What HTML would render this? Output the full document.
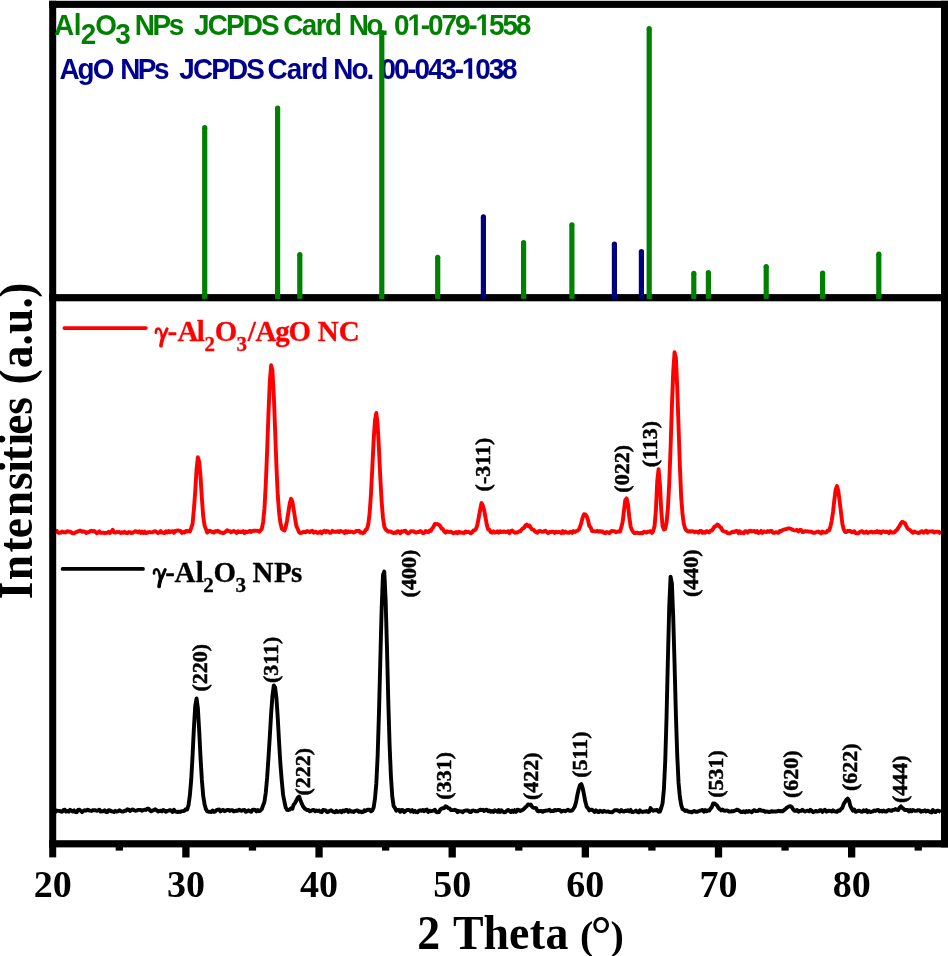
<!DOCTYPE html>
<html><head><meta charset="utf-8"><style>
html,body{margin:0;padding:0;background:#fff;width:948px;height:956px;overflow:hidden}
svg{display:block;will-change:transform}
text{white-space:pre}
.ser{font-family:"Liberation Serif",serif;font-weight:bold}
.san{font-family:"Liberation Sans",sans-serif;font-weight:bold}
</style></head><body>
<svg width="948" height="956" viewBox="0 0 948 956">

<polyline fill="none" stroke="#000" stroke-width="3.9" stroke-linejoin="round" points="52.75,810.07 54.08,811.75 55.41,811.78 56.74,810.49 58.08,810.91 59.41,810.86 60.74,811.37 62.07,811.79 63.40,810.08 64.73,809.66 66.06,811.66 67.40,810.93 68.73,811.66 70.06,809.83 71.39,810.69 72.72,811.52 74.05,810.39 75.39,812.04 76.72,812.18 78.05,809.98 79.38,809.64 80.71,810.90 82.04,812.10 83.37,810.86 84.71,810.26 86.04,810.69 87.37,809.75 88.70,810.10 90.03,810.70 91.36,810.94 92.69,810.31 94.03,810.20 95.36,810.16 96.69,810.76 98.02,810.42 99.35,809.68 100.68,811.64 102.02,811.22 103.35,811.37 104.68,810.22 106.01,812.09 107.34,812.03 108.67,810.12 110.00,810.36 111.34,811.37 112.67,811.48 114.00,812.05 115.33,810.80 116.66,811.63 117.99,811.32 119.32,810.31 120.66,810.85 121.99,811.64 123.32,811.63 124.65,810.72 125.98,810.76 127.31,809.31 128.65,809.58 129.98,810.99 131.31,810.18 132.64,809.41 133.97,810.21 135.30,810.69 136.63,810.65 137.97,809.85 139.30,809.87 140.63,810.03 141.96,810.73 143.29,810.17 144.62,809.75 145.95,809.94 147.29,808.80 148.62,808.68 149.95,810.36 151.28,811.35 152.61,810.54 153.94,809.94 155.28,809.31 156.61,810.11 157.94,811.49 159.27,811.20 160.60,810.61 161.93,811.38 163.26,809.94 164.60,810.48 165.93,811.72 167.26,810.99 168.59,810.61 169.92,810.11 171.25,810.77 172.58,811.94 173.92,809.72 175.25,811.39 176.58,811.76 177.91,812.00 179.24,811.68 180.57,811.82 181.91,811.11 183.24,811.09 184.57,810.63 185.90,809.16 187.23,809.56 188.56,805.03 189.89,795.08 191.23,779.52 192.56,755.83 193.89,728.35 195.22,706.19 196.55,698.54 197.88,708.28 199.22,731.13 200.55,757.90 201.88,779.97 203.21,795.89 204.54,804.27 205.87,809.08 207.20,811.35 208.54,811.75 209.87,811.86 211.20,811.94 212.53,810.52 213.86,811.80 215.19,811.56 216.52,810.02 217.86,809.62 219.19,809.56 220.52,811.44 221.85,810.43 223.18,809.92 224.51,811.16 225.84,810.63 227.18,809.85 228.51,809.96 229.84,810.91 231.17,810.14 232.50,810.29 233.83,811.43 235.17,810.95 236.50,810.54 237.83,810.86 239.16,809.76 240.49,810.53 241.82,810.73 243.15,810.16 244.49,809.88 245.82,811.85 247.15,811.15 248.48,810.28 249.81,811.16 251.14,811.83 252.47,809.90 253.81,809.60 255.14,809.88 256.47,811.36 257.80,810.08 259.13,811.07 260.46,810.62 261.80,808.97 263.13,805.30 264.46,801.78 265.79,792.51 267.12,777.89 268.45,758.21 269.78,736.86 271.12,713.80 272.45,695.85 273.78,685.45 275.11,687.39 276.44,698.00 277.77,718.06 279.11,742.68 280.44,764.48 281.77,780.83 283.10,794.81 284.43,801.75 285.76,807.82 287.09,809.89 288.43,809.99 289.76,809.54 291.09,808.18 292.42,808.76 293.75,804.43 295.08,802.95 296.41,800.47 297.75,797.63 299.08,796.49 300.41,800.06 301.74,803.69 303.07,806.27 304.40,808.19 305.74,809.34 307.07,810.02 308.40,810.00 309.73,811.27 311.06,810.86 312.39,810.20 313.72,809.87 315.06,811.25 316.39,810.52 317.72,810.93 319.05,810.54 320.38,811.88 321.71,812.15 323.04,809.94 324.38,810.08 325.71,810.42 327.04,812.16 328.37,811.89 329.70,810.72 331.03,810.23 332.36,811.33 333.70,811.91 335.03,812.24 336.36,810.79 337.69,811.94 339.02,811.62 340.35,811.05 341.69,812.25 343.02,810.51 344.35,811.50 345.68,810.02 347.01,810.01 348.34,811.90 349.67,810.40 351.01,811.57 352.34,811.34 353.67,811.92 355.00,810.80 356.33,810.56 357.66,810.40 359.00,811.85 360.33,811.39 361.66,812.22 362.99,812.17 364.32,810.25 365.65,811.02 366.98,809.99 368.32,809.65 369.65,809.61 370.98,811.32 372.31,810.37 373.64,807.47 374.97,798.81 376.30,783.67 377.64,756.11 378.97,712.91 380.30,660.96 381.63,609.34 382.96,575.27 384.29,571.48 385.62,599.94 386.96,647.21 388.29,701.33 389.62,745.81 390.95,776.93 392.28,796.64 393.61,806.07 394.95,807.90 396.28,810.68 397.61,809.85 398.94,809.83 400.27,811.81 401.60,809.95 402.93,810.18 404.27,812.12 405.60,810.97 406.93,810.01 408.26,810.00 409.59,810.19 410.92,811.50 412.25,810.06 413.59,811.91 414.92,810.83 416.25,812.17 417.58,812.22 418.91,810.66 420.24,810.32 421.58,810.84 422.91,809.96 424.24,811.23 425.57,809.86 426.90,809.58 428.23,812.02 429.56,810.63 430.90,811.19 432.23,810.90 433.56,810.51 434.89,809.81 436.22,811.86 437.55,812.26 438.88,812.16 440.22,809.53 441.55,808.58 442.88,808.27 444.21,807.99 445.54,806.32 446.87,806.88 448.21,808.03 449.54,808.41 450.87,810.05 452.20,810.15 453.53,810.17 454.86,809.80 456.19,810.26 457.53,812.12 458.86,811.04 460.19,811.39 461.52,811.42 462.85,812.19 464.18,810.90 465.51,810.49 466.85,810.48 468.18,810.46 469.51,811.80 470.84,812.12 472.17,810.67 473.50,810.53 474.84,811.04 476.17,811.21 477.50,811.28 478.83,810.39 480.16,809.69 481.49,810.15 482.82,809.78 484.16,810.95 485.49,809.90 486.82,809.75 488.15,811.16 489.48,810.49 490.81,811.67 492.14,811.08 493.48,811.94 494.81,810.26 496.14,810.89 497.47,811.74 498.80,810.03 500.13,812.00 501.47,810.32 502.80,811.60 504.13,812.33 505.46,812.02 506.79,810.69 508.12,809.95 509.45,810.88 510.79,812.05 512.12,810.63 513.45,811.93 514.78,810.18 516.11,811.83 517.44,809.71 518.77,809.90 520.11,811.04 521.44,810.40 522.77,809.80 524.10,808.65 525.43,807.33 526.76,806.24 528.10,804.36 529.43,804.76 530.76,804.58 532.09,806.74 533.42,807.87 534.75,807.87 536.08,808.13 537.42,811.00 538.75,811.39 540.08,810.99 541.41,811.02 542.74,811.86 544.07,811.00 545.40,810.73 546.74,810.55 548.07,810.31 549.40,809.68 550.73,811.18 552.06,810.81 553.39,811.15 554.73,809.91 556.06,810.47 557.39,810.00 558.72,809.89 560.05,810.22 561.38,811.72 562.71,810.85 564.05,810.72 565.38,811.24 566.71,810.35 568.04,809.63 569.37,810.80 570.70,810.74 572.03,810.60 573.37,808.80 574.70,806.67 576.03,802.34 577.36,795.04 578.69,789.29 580.02,785.15 581.36,784.16 582.69,788.17 584.02,794.63 585.35,801.81 586.68,806.81 588.01,808.18 589.34,810.39 590.68,809.59 592.01,809.66 593.34,810.82 594.67,811.93 596.00,810.27 597.33,811.57 598.66,812.06 600.00,810.68 601.33,811.44 602.66,811.96 603.99,810.82 605.32,811.49 606.65,811.68 607.99,811.34 609.32,811.96 610.65,812.16 611.98,812.35 613.31,811.38 614.64,810.23 615.97,810.25 617.31,810.17 618.64,811.05 619.97,811.67 621.30,809.96 622.63,811.31 623.96,811.60 625.29,810.70 626.63,810.99 627.96,810.14 629.29,811.46 630.62,809.90 631.95,812.06 633.28,811.94 634.62,811.47 635.95,810.48 637.28,811.97 638.61,812.32 639.94,810.28 641.27,811.59 642.60,811.96 643.94,811.55 645.27,811.59 646.60,810.95 647.93,812.04 649.26,811.58 650.59,808.04 651.92,809.98 653.26,810.76 654.59,810.13 655.92,810.42 657.25,809.93 658.58,811.74 659.91,811.66 661.25,807.75 662.58,803.18 663.91,789.23 665.24,760.93 666.57,716.39 667.90,659.02 669.23,606.73 670.57,576.59 671.90,583.68 673.23,617.33 674.56,664.11 675.89,714.45 677.22,754.71 678.55,782.71 679.89,797.11 681.22,805.04 682.55,809.13 683.88,809.84 685.21,810.97 686.54,810.35 687.88,811.37 689.21,811.80 690.54,811.91 691.87,812.34 693.20,811.32 694.53,811.02 695.86,811.91 697.20,811.82 698.53,811.30 699.86,810.75 701.19,810.41 702.52,809.91 703.85,811.61 705.18,810.05 706.52,811.26 707.85,810.50 709.18,810.56 710.51,808.61 711.84,807.12 713.17,803.37 714.51,803.40 715.84,804.48 717.17,805.64 718.50,807.99 719.83,809.17 721.16,810.43 722.49,809.53 723.83,810.61 725.16,810.81 726.49,810.47 727.82,810.66 729.15,811.67 730.48,811.57 731.81,811.07 733.15,811.39 734.48,810.75 735.81,810.21 737.14,809.62 738.47,810.23 739.80,811.13 741.14,811.99 742.47,811.99 743.80,811.18 745.13,812.27 746.46,811.09 747.79,811.87 749.12,810.90 750.46,811.61 751.79,812.33 753.12,810.70 754.45,810.11 755.78,811.17 757.11,811.10 758.44,810.66 759.78,809.68 761.11,810.52 762.44,810.74 763.77,810.72 765.10,811.88 766.43,811.35 767.77,811.65 769.10,812.11 770.43,811.80 771.76,811.10 773.09,811.64 774.42,811.45 775.75,811.45 777.09,811.39 778.42,810.79 779.75,811.19 781.08,811.06 782.41,811.40 783.74,810.35 785.07,809.37 786.41,807.99 787.74,807.18 789.07,806.42 790.40,806.23 791.73,806.98 793.06,809.26 794.40,810.83 795.73,810.71 797.06,809.93 798.39,811.65 799.72,811.05 801.05,810.92 802.38,809.83 803.72,810.85 805.05,811.60 806.38,810.89 807.71,810.61 809.04,811.34 810.37,809.83 811.70,810.84 813.04,812.11 814.37,811.65 815.70,810.85 817.03,811.46 818.36,811.34 819.69,810.31 821.03,810.15 822.36,811.86 823.69,810.54 825.02,809.85 826.35,811.67 827.68,811.16 829.01,810.69 830.35,810.98 831.68,811.60 833.01,810.24 834.34,811.28 835.67,811.58 837.00,811.87 838.33,810.44 839.67,810.81 841.00,809.09 842.33,807.95 843.66,804.03 844.99,801.95 846.32,799.89 847.66,798.56 848.99,800.53 850.32,805.88 851.65,808.54 852.98,810.70 854.31,809.54 855.64,811.75 856.98,811.42 858.31,810.59 859.64,810.77 860.97,811.63 862.30,811.82 863.63,810.33 864.96,811.22 866.30,810.18 867.63,812.08 868.96,811.02 870.29,812.06 871.62,811.74 872.95,811.38 874.29,810.45 875.62,810.99 876.95,810.08 878.28,809.94 879.61,811.39 880.94,810.70 882.27,811.60 883.61,810.43 884.94,811.47 886.27,811.63 887.60,810.60 888.93,809.93 890.26,810.57 891.59,810.88 892.93,809.85 894.26,809.76 895.59,809.08 896.92,809.84 898.25,810.03 899.58,807.68 900.92,806.44 902.25,807.96 903.58,808.89 904.91,810.07 906.24,810.04 907.57,809.87 908.90,811.43 910.24,809.99 911.57,811.31 912.90,810.01 914.23,810.59 915.56,810.93 916.89,810.68 918.22,810.11 919.56,810.18 920.89,811.69 922.22,811.01 923.55,811.21 924.88,810.30 926.21,811.44 927.55,810.63 928.88,811.18 930.21,812.07 931.54,812.42 932.87,810.06 934.20,811.62 935.53,812.00 936.87,810.69 938.20,810.66 939.53,811.15 940.86,812.09"/>
<polyline fill="none" stroke="#ff0000" stroke-width="3.9" stroke-linejoin="round" points="52.75,533.16 54.08,533.32 55.41,531.07 56.74,530.80 58.08,532.68 59.41,532.70 60.74,532.54 62.07,531.59 63.40,532.21 64.73,532.30 66.06,532.25 67.40,531.17 68.73,531.70 70.06,531.68 71.39,532.52 72.72,533.34 74.05,533.35 75.39,532.31 76.72,531.91 78.05,531.40 79.38,530.73 80.71,530.60 82.04,531.70 83.37,531.49 84.71,531.62 86.04,532.94 87.37,532.21 88.70,532.19 90.03,531.35 91.36,530.69 92.69,531.36 94.03,530.98 95.36,531.87 96.69,533.25 98.02,532.63 99.35,531.28 100.68,532.90 102.02,532.89 103.35,532.73 104.68,533.15 106.01,532.84 107.34,532.87 108.67,531.75 110.00,532.94 111.34,531.91 112.67,529.90 114.00,532.30 115.33,532.62 116.66,532.00 117.99,532.08 119.32,531.99 120.66,533.08 121.99,532.16 123.32,532.87 124.65,531.76 125.98,532.94 127.31,533.16 128.65,532.07 129.98,532.18 131.31,533.10 132.64,532.74 133.97,532.08 135.30,531.30 136.63,531.45 137.97,532.43 139.30,531.21 140.63,532.92 141.96,531.55 143.29,532.98 144.62,531.66 145.95,533.12 147.29,532.69 148.62,532.11 149.95,532.06 151.28,532.40 152.61,532.28 153.94,531.56 155.28,531.19 156.61,531.91 157.94,533.09 159.27,532.48 160.60,530.99 161.93,532.67 163.26,532.68 164.60,533.14 165.93,531.38 167.26,532.53 168.59,530.95 169.92,532.23 171.25,531.46 172.58,531.22 173.92,532.84 175.25,531.03 176.58,530.74 177.91,530.41 179.24,530.60 180.57,531.13 181.91,532.85 183.24,531.93 184.57,532.54 185.90,530.88 187.23,531.45 188.56,530.91 189.89,531.48 191.23,527.91 192.56,523.87 193.89,509.31 195.22,491.57 196.55,469.29 197.88,457.23 199.22,461.77 200.55,477.01 201.88,498.02 203.21,516.27 204.54,525.52 205.87,528.87 207.20,532.59 208.54,531.18 209.87,530.69 211.20,531.41 212.53,532.21 213.86,532.65 215.19,531.11 216.52,531.45 217.86,530.72 219.19,531.68 220.52,532.63 221.85,532.71 223.18,533.12 224.51,532.53 225.84,531.47 227.18,530.21 228.51,530.90 229.84,531.15 231.17,532.30 232.50,531.58 233.83,530.92 235.17,531.71 236.50,532.91 237.83,531.19 239.16,532.09 240.49,531.74 241.82,532.00 243.15,531.09 244.49,533.04 245.82,531.54 247.15,532.20 248.48,531.83 249.81,530.74 251.14,531.96 252.47,531.08 253.81,530.73 255.14,530.61 256.47,530.90 257.80,530.69 259.13,531.71 260.46,530.52 261.80,528.80 263.13,522.06 264.46,508.65 265.79,483.78 267.12,451.60 268.45,413.91 269.78,382.16 271.12,365.29 272.45,370.54 273.78,395.16 275.11,429.88 276.44,466.25 277.77,495.22 279.11,512.70 280.44,522.90 281.77,528.59 283.10,529.56 284.43,530.54 285.76,526.74 287.09,520.36 288.43,511.83 289.76,503.25 291.09,498.75 292.42,501.92 293.75,509.75 295.08,518.45 296.41,526.16 297.75,529.01 299.08,532.25 300.41,533.16 301.74,532.75 303.07,531.94 304.40,532.02 305.74,532.21 307.07,530.89 308.40,531.62 309.73,532.01 311.06,531.19 312.39,530.84 313.72,532.60 315.06,531.75 316.39,532.01 317.72,533.08 319.05,532.44 320.38,531.53 321.71,533.16 323.04,531.85 324.38,530.75 325.71,532.29 327.04,531.03 328.37,531.36 329.70,532.77 331.03,532.56 332.36,530.85 333.70,531.70 335.03,531.73 336.36,531.92 337.69,531.24 339.02,532.11 340.35,530.93 341.69,531.29 343.02,531.57 344.35,533.05 345.68,531.08 347.01,532.51 348.34,531.29 349.67,532.08 351.01,531.74 352.34,531.87 353.67,532.63 355.00,531.83 356.33,531.01 357.66,530.89 359.00,530.76 360.33,532.70 361.66,532.45 362.99,533.17 364.32,532.38 365.65,529.83 366.98,528.98 368.32,524.11 369.65,513.08 370.98,493.93 372.31,467.88 373.64,440.44 374.97,420.38 376.30,413.04 377.64,424.81 378.97,448.77 380.30,477.78 381.63,501.33 382.96,517.76 384.29,526.54 385.62,529.29 386.96,530.54 388.29,531.67 389.62,531.32 390.95,531.71 392.28,532.41 393.61,533.13 394.95,532.39 396.28,532.87 397.61,531.10 398.94,531.50 400.27,533.19 401.60,531.28 402.93,531.68 404.27,530.85 405.60,530.77 406.93,532.82 408.26,533.37 409.59,532.58 410.92,531.14 412.25,531.35 413.59,531.22 414.92,532.32 416.25,532.51 417.58,531.92 418.91,532.05 420.24,531.02 421.58,531.96 422.91,533.14 424.24,532.82 425.57,531.06 426.90,531.79 428.23,532.19 429.56,530.57 430.90,530.97 432.23,528.37 433.56,526.68 434.89,523.92 436.22,524.13 437.55,524.01 438.88,524.93 440.22,525.93 441.55,528.59 442.88,529.16 444.21,531.37 445.54,532.73 446.87,531.25 448.21,531.90 449.54,531.94 450.87,531.75 452.20,532.50 453.53,533.19 454.86,532.70 456.19,532.04 457.53,533.18 458.86,531.75 460.19,532.59 461.52,532.49 462.85,532.74 464.18,533.01 465.51,531.45 466.85,532.23 468.18,531.79 469.51,532.39 470.84,533.25 472.17,532.42 473.50,530.37 474.84,530.22 476.17,528.48 477.50,524.29 478.83,516.86 480.16,509.84 481.49,503.08 482.82,505.38 484.16,510.27 485.49,517.37 486.82,524.85 488.15,529.43 489.48,529.78 490.81,532.26 492.14,532.68 493.48,531.33 494.81,532.52 496.14,532.30 497.47,531.26 498.80,532.66 500.13,531.18 501.47,532.16 502.80,531.86 504.13,531.35 505.46,532.07 506.79,531.93 508.12,531.24 509.45,533.08 510.79,531.07 512.12,530.59 513.45,531.74 514.78,532.79 516.11,532.43 517.44,532.49 518.77,531.55 520.11,531.42 521.44,529.80 522.77,528.41 524.10,527.71 525.43,525.42 526.76,524.62 528.10,526.19 529.43,525.50 530.76,527.82 532.09,529.35 533.42,529.61 534.75,531.10 536.08,532.10 537.42,532.72 538.75,531.09 540.08,530.97 541.41,531.53 542.74,531.84 544.07,531.45 545.40,530.67 546.74,531.95 548.07,533.18 549.40,531.84 550.73,532.07 552.06,531.71 553.39,531.81 554.73,532.92 556.06,531.65 557.39,532.33 558.72,532.01 560.05,532.10 561.38,533.07 562.71,531.08 564.05,532.69 565.38,531.60 566.71,532.31 568.04,532.80 569.37,532.51 570.70,531.80 572.03,532.83 573.37,531.05 574.70,532.06 576.03,531.28 577.36,530.75 578.69,529.90 580.02,526.99 581.36,522.58 582.69,517.52 584.02,514.27 585.35,514.34 586.68,516.07 588.01,520.05 589.34,525.96 590.68,527.37 592.01,530.96 593.34,531.13 594.67,531.40 596.00,531.42 597.33,530.83 598.66,531.72 600.00,531.11 601.33,531.72 602.66,531.43 603.99,532.92 605.32,533.21 606.65,532.03 607.99,532.36 609.32,533.15 610.65,531.73 611.98,530.94 613.31,531.17 614.64,531.08 615.97,532.31 617.31,531.69 618.64,531.38 619.97,531.62 621.30,527.46 622.63,521.91 623.96,510.84 625.29,500.03 626.63,498.42 627.96,504.38 629.29,516.95 630.62,526.36 631.95,530.02 633.28,532.01 634.62,533.14 635.95,532.79 637.28,532.76 638.61,533.06 639.94,533.27 641.27,532.84 642.60,533.35 643.94,531.67 645.27,532.26 646.60,532.47 647.93,531.73 649.26,531.69 650.59,531.12 651.92,532.95 653.26,530.86 654.59,525.88 655.92,510.09 657.25,481.04 658.58,469.14 659.91,484.18 661.25,510.59 662.58,526.13 663.91,529.55 665.24,528.94 666.57,522.48 667.90,508.35 669.23,483.24 670.57,448.20 671.90,406.34 673.23,371.61 674.56,352.08 675.89,357.94 677.22,387.38 678.55,426.46 679.89,465.95 681.22,497.59 682.55,514.54 683.88,524.24 685.21,528.74 686.54,530.51 687.88,531.49 689.21,531.27 690.54,531.49 691.87,531.28 693.20,531.23 694.53,532.17 695.86,531.61 697.20,531.62 698.53,532.63 699.86,530.98 701.19,530.94 702.52,532.73 703.85,531.93 705.18,532.69 706.52,531.12 707.85,531.77 709.18,532.42 710.51,530.66 711.84,530.53 713.17,528.76 714.51,526.46 715.84,526.50 717.17,524.61 718.50,525.13 719.83,526.88 721.16,527.88 722.49,530.63 723.83,531.28 725.16,531.81 726.49,531.97 727.82,533.20 729.15,533.42 730.48,533.08 731.81,532.05 733.15,531.78 734.48,532.03 735.81,530.85 737.14,530.83 738.47,533.09 739.80,531.22 741.14,533.00 742.47,532.61 743.80,533.15 745.13,531.09 746.46,531.37 747.79,532.67 749.12,530.85 750.46,530.82 751.79,531.44 753.12,531.08 754.45,530.96 755.78,532.28 757.11,531.00 758.44,533.05 759.78,532.54 761.11,530.93 762.44,532.86 763.77,531.47 765.10,531.87 766.43,532.13 767.77,531.10 769.10,531.87 770.43,530.85 771.76,531.05 773.09,532.91 774.42,532.92 775.75,532.13 777.09,532.36 778.42,532.80 779.75,530.86 781.08,531.29 782.41,530.20 783.74,529.71 785.07,529.29 786.41,529.15 787.74,528.39 789.07,528.42 790.40,528.66 791.73,529.25 793.06,530.00 794.40,530.40 795.73,530.26 797.06,530.03 798.39,531.38 799.72,529.99 801.05,529.93 802.38,531.97 803.72,531.97 805.05,531.04 806.38,531.42 807.71,531.32 809.04,531.68 810.37,531.75 811.70,531.69 813.04,532.71 814.37,532.90 815.70,532.29 817.03,531.97 818.36,531.45 819.69,532.59 821.03,533.33 822.36,531.51 823.69,532.44 825.02,532.56 826.35,532.39 827.68,530.46 829.01,530.49 830.35,526.94 831.68,520.84 833.01,511.93 834.34,499.93 835.67,489.43 837.00,486.00 838.33,490.97 839.67,501.50 841.00,512.48 842.33,523.44 843.66,529.22 844.99,531.76 846.32,532.06 847.66,530.81 848.99,531.04 850.32,530.86 851.65,532.18 852.98,532.14 854.31,531.22 855.64,533.05 856.98,533.38 858.31,533.22 859.64,532.09 860.97,531.48 862.30,531.18 863.63,532.70 864.96,532.62 866.30,531.52 867.63,532.96 868.96,532.32 870.29,531.83 871.62,531.76 872.95,532.53 874.29,531.97 875.62,532.40 876.95,531.10 878.28,532.38 879.61,531.48 880.94,532.97 882.27,531.42 883.61,531.49 884.94,532.02 886.27,531.73 887.60,532.02 888.93,533.08 890.26,531.39 891.59,532.57 892.93,532.45 894.26,532.44 895.59,531.05 896.92,529.86 898.25,527.86 899.58,525.97 900.92,523.34 902.25,521.79 903.58,522.49 904.91,523.21 906.24,525.94 907.57,528.46 908.90,529.54 910.24,530.16 911.57,531.76 912.90,532.81 914.23,531.40 915.56,532.20 916.89,532.43 918.22,533.05 919.56,532.62 920.89,531.60 922.22,531.19 923.55,532.74 924.88,531.60 926.21,530.70 927.55,532.75 928.88,531.34 930.21,531.42 931.54,531.45 932.87,531.30 934.20,532.47 935.53,531.67 936.87,531.80 938.20,531.76 939.53,532.82 940.86,530.89"/>
<g fill="#000">
<rect x="49.2" y="0.8" width="898.8" height="7.1"/>
<rect x="49.2" y="840.2" width="898.8" height="7.2"/>
<rect x="49.2" y="294.1" width="898.8" height="7.2"/>
<rect x="49.2" y="0.8" width="7.0" height="856.6"/>
<rect x="941" y="0.8" width="7" height="846.6"/>
<rect x="182.25" y="845" width="7.3" height="12.5"/>
<rect x="315.40" y="845" width="7.3" height="12.5"/>
<rect x="448.55" y="845" width="7.3" height="12.5"/>
<rect x="581.70" y="845" width="7.3" height="12.5"/>
<rect x="714.85" y="845" width="7.3" height="12.5"/>
<rect x="848.00" y="845" width="7.3" height="12.5"/>
<rect x="115.67" y="845" width="7.3" height="5.6"/>
<rect x="248.82" y="845" width="7.3" height="5.6"/>
<rect x="381.98" y="845" width="7.3" height="5.6"/>
<rect x="515.12" y="845" width="7.3" height="5.6"/>
<rect x="648.27" y="845" width="7.3" height="5.6"/>
<rect x="781.42" y="845" width="7.3" height="5.6"/>
<rect x="914.58" y="845" width="7.3" height="5.6"/>
</g>
<g transform="translate(54.70,0) scale(0.93,1)"><text class="san" font-size="30" fill="#008000" x="-0.75" y="35.2" >A</text></g>
<g transform="translate(75.80,0) scale(0.93,1)"><text class="san" font-size="30" fill="#008000" x="-2.09" y="35.2" >l</text></g>
<g transform="translate(81.60,0) scale(0.93,1)"><text class="san" font-size="30" fill="#008000" x="-1.04" y="44.2" >2</text></g>
<g transform="translate(96.40,0) scale(0.93,1)"><text class="san" font-size="30" fill="#008000" x="-1.23" y="35.2" >O</text></g>
<g transform="translate(115.90,0) scale(0.93,1)"><text class="san" font-size="30" fill="#008000" x="-0.69" y="44.2" >3</text></g>
<g transform="translate(136.50,0) scale(0.93,1)"><text class="san" font-size="30" fill="#008000" x="-2.01 17.10 34.55" y="35.2" >NPs</text></g>
<g transform="translate(194.40,0) scale(0.93,1)"><text class="san" font-size="30" fill="#008000" x="-0.45 14.26 33.96 52.00 71.70" y="35.2" >JCPDS</text></g>
<g transform="translate(284.40,0) scale(0.93,1)"><text class="san" font-size="30" fill="#008000" x="-1.23 18.68 33.62 43.54" y="35.2" >Card</text></g>
<g transform="translate(350.60,0) scale(0.93,1)"><text class="san" font-size="30" fill="#008000" x="-2.01 16.83 32.33" y="35.2" >No.</text></g>
<g transform="translate(395.10,0) scale(0.93,1)"><text class="san" font-size="30" fill="#008000" x="-1.19 13.25 27.69 35.44 49.88 64.32 78.76 86.51 100.95 115.39 129.83" y="35.2" >0 -079- 558</text></g>
<path fill="#008000" transform="translate(407.43,35.2) scale(0.013623,-0.014648)" d="M478,0 L478,1170 L140,959 L140,1180 L493,1409 L759,1409 L759,0 Z"/>
<path fill="#008000" transform="translate(475.55,35.2) scale(0.013623,-0.014648)" d="M478,0 L478,1170 L140,959 L140,1180 L493,1409 L759,1409 L759,0 Z"/>
<g transform="translate(60.10,0) scale(0.93,1)"><text class="san" font-size="30" fill="#000090" x="-0.75 18.81 35.02" y="78.8" >AgO</text></g>
<g transform="translate(122.10,0) scale(0.93,1)"><text class="san" font-size="30" fill="#000090" x="-2.01 16.94 34.22" y="78.8" >NPs</text></g>
<g transform="translate(179.70,0) scale(0.93,1)"><text class="san" font-size="30" fill="#000090" x="-0.45 14.21 33.85 51.84 71.48" y="78.8" >JCPDS</text></g>
<g transform="translate(268.60,0) scale(0.93,1)"><text class="san" font-size="30" fill="#000090" x="-1.23 19.44 35.13 45.80" y="78.8" >Card</text></g>
<g transform="translate(335.20,0) scale(0.93,1)"><text class="san" font-size="30" fill="#000090" x="-2.01 17.48 33.62" y="78.8" >No.</text></g>
<g transform="translate(381.70,0) scale(0.93,1)"><text class="san" font-size="30" fill="#000090" x="-1.19 13.21 27.61 35.31 49.71 64.11 78.50 86.21 100.60 115.00 129.40" y="78.8" >00-043- 038</text></g>
<path fill="#000090" transform="translate(461.87,78.8) scale(0.013623,-0.014648)" d="M478,0 L478,1170 L140,959 L140,1180 L493,1409 L759,1409 L759,0 Z"/>
<line x1="204.7" y1="127.69999999999999" x2="204.7" y2="298.9" stroke="#008000" stroke-width="5.2"/><circle cx="204.7" cy="127.69999999999999" r="2.6" fill="#008000"/>
<line x1="277.6" y1="108.0" x2="277.6" y2="298.9" stroke="#008000" stroke-width="5.2"/><circle cx="277.6" cy="108.0" r="2.6" fill="#008000"/>
<line x1="299.8" y1="254.6" x2="299.8" y2="298.9" stroke="#008000" stroke-width="5.2"/><circle cx="299.8" cy="254.6" r="2.6" fill="#008000"/>
<line x1="381.8" y1="32.6" x2="381.8" y2="298.9" stroke="#008000" stroke-width="5.2"/><circle cx="381.8" cy="32.6" r="2.6" fill="#008000"/>
<line x1="437.7" y1="257.3" x2="437.7" y2="298.9" stroke="#008000" stroke-width="5.2"/><circle cx="437.7" cy="257.3" r="2.6" fill="#008000"/>
<line x1="523.6" y1="242.6" x2="523.6" y2="298.9" stroke="#008000" stroke-width="5.2"/><circle cx="523.6" cy="242.6" r="2.6" fill="#008000"/>
<line x1="571.9" y1="224.79999999999998" x2="571.9" y2="298.9" stroke="#008000" stroke-width="5.2"/><circle cx="571.9" cy="224.79999999999998" r="2.6" fill="#008000"/>
<line x1="649.2" y1="28.700000000000003" x2="649.2" y2="298.9" stroke="#008000" stroke-width="5.2"/><circle cx="649.2" cy="28.700000000000003" r="2.6" fill="#008000"/>
<line x1="693.8" y1="273.40000000000003" x2="693.8" y2="298.9" stroke="#008000" stroke-width="5.2"/><circle cx="693.8" cy="273.40000000000003" r="2.6" fill="#008000"/>
<line x1="708.4" y1="272.5" x2="708.4" y2="298.9" stroke="#008000" stroke-width="5.2"/><circle cx="708.4" cy="272.5" r="2.6" fill="#008000"/>
<line x1="766.2" y1="266.6" x2="766.2" y2="298.9" stroke="#008000" stroke-width="5.2"/><circle cx="766.2" cy="266.6" r="2.6" fill="#008000"/>
<line x1="822.6" y1="273.20000000000005" x2="822.6" y2="298.9" stroke="#008000" stroke-width="5.2"/><circle cx="822.6" cy="273.20000000000005" r="2.6" fill="#008000"/>
<line x1="878.8" y1="254.2" x2="878.8" y2="298.9" stroke="#008000" stroke-width="5.2"/><circle cx="878.8" cy="254.2" r="2.6" fill="#008000"/>
<line x1="483.4" y1="216.9" x2="483.4" y2="298.9" stroke="#000080" stroke-width="5.2"/><circle cx="483.4" cy="216.9" r="2.6" fill="#000080"/>
<line x1="614.4" y1="244.0" x2="614.4" y2="298.9" stroke="#000080" stroke-width="5.2"/><circle cx="614.4" cy="244.0" r="2.6" fill="#000080"/>
<line x1="641.4" y1="251.6" x2="641.4" y2="298.9" stroke="#000080" stroke-width="5.2"/><circle cx="641.4" cy="251.6" r="2.6" fill="#000080"/>
<text class="ser" x="52.75" y="896.7" font-size="38" text-anchor="middle">20</text>
<text class="ser" x="185.90" y="896.7" font-size="38" text-anchor="middle">30</text>
<text class="ser" x="319.05" y="896.7" font-size="38" text-anchor="middle">40</text>
<text class="ser" x="452.20" y="896.7" font-size="38" text-anchor="middle">50</text>
<text class="ser" x="585.35" y="896.7" font-size="38" text-anchor="middle">60</text>
<text class="ser" x="718.50" y="896.7" font-size="38" text-anchor="middle">70</text>
<text class="ser" x="851.65" y="896.7" font-size="38" text-anchor="middle">80</text>
<g transform="translate(419.10,0) scale(0.955,1)"><text class="ser" font-size="48" fill="#000" x="-2.02 21.98 35.48 67.50 94.17 115.77 132.38" y="948.7" >2 Theta</text></g>
<text class="ser" font-size="40" fill="#000" x="579.94" y="948.7" >(</text>
<text class="ser" font-size="40" fill="#000" x="610.51" y="948.7" >)</text>
<text class="ser" font-size="52" fill="#000" x="590.81" y="952.3" >°</text>
<g transform="translate(31.6,600.0) rotate(-90)"><g transform="translate(0.00,0) scale(0.945,1)"><text class="ser" font-size="48" fill="#000" x="0.82 20.83 50.23 65.34 88.55 116.32 134.61 146.85 163.50 174.87 196.01 214.69 228.16 245.33 269.32 281.39 308.58 319.83" y="0" >Intensities (a.u.)</text></g></g>
<text class="ser" font-size="22" fill="#000" stroke="#000" stroke-width="0.5" transform="translate(206.6,691.5) rotate(-90)">(220)</text>
<text class="ser" font-size="22" fill="#000" stroke="#000" stroke-width="0.5" transform="translate(277.5,683.1) rotate(-90)">(311)</text>
<text class="ser" font-size="22" fill="#000" stroke="#000" stroke-width="0.5" transform="translate(309.5,795.6) rotate(-90)">(222)</text>
<text class="ser" font-size="22" fill="#000" stroke="#000" stroke-width="0.5" transform="translate(415.90000000000003,597.4) rotate(-90)">(400)</text>
<text class="ser" font-size="22" fill="#000" stroke="#000" stroke-width="0.5" transform="translate(451.40000000000003,799.7) rotate(-90)">(331)</text>
<text class="ser" font-size="22" fill="#000" stroke="#000" stroke-width="0.5" transform="translate(537.8000000000001,800.0) rotate(-90)">(422)</text>
<text class="ser" font-size="22" fill="#000" stroke="#000" stroke-width="0.5" transform="translate(586.6,777.8) rotate(-90)">(511)</text>
<text class="ser" font-size="22" fill="#000" stroke="#000" stroke-width="0.5" transform="translate(697.6,597.1) rotate(-90)">(440)</text>
<text class="ser" font-size="22" fill="#000" stroke="#000" stroke-width="0.5" transform="translate(723.3000000000001,797.8) rotate(-90)">(531)</text>
<text class="ser" font-size="22" fill="#000" stroke="#000" stroke-width="0.5" transform="translate(797.5,798.1) rotate(-90)">(620)</text>
<text class="ser" font-size="22" fill="#000" stroke="#000" stroke-width="0.5" transform="translate(857.2,791.1) rotate(-90)">(622)</text>
<text class="ser" font-size="22" fill="#000" stroke="#000" stroke-width="0.5" transform="translate(907.2,803.0) rotate(-90)">(444)</text>
<text class="ser" font-size="22" fill="#000" stroke="#000" stroke-width="0.5" transform="translate(489.70000000000005,491.4) rotate(-90)">(-311)</text>
<text class="ser" font-size="22" fill="#000" stroke="#000" stroke-width="0.5" transform="translate(628.6,492.7) rotate(-90)">(022)</text>
<text class="ser" font-size="22" fill="#000" stroke="#000" stroke-width="0.5" transform="translate(657.2,467.3) rotate(-90)">(113)</text>
<line x1="64.4" y1="328.1" x2="145.8" y2="328.1" stroke="#ff0000" stroke-width="3.9" stroke-linecap="round"/>
<g transform="translate(155.2,341.5)" fill="none" stroke="#ff0000" stroke-linecap="round" stroke-linejoin="round"><path d="M0.7,-8.7 C0.6,-11.8 1.6,-13.0 3.0,-13.0 C5.0,-13.0 6.0,-10.2 6.6,-5.5 L6.9,-1.5" stroke-width="2.6"/><path d="M11.9,-12.6 L6.8,-0.8" stroke-width="3.1"/><path d="M6.9,-1.5 C6.4,1.2 5.8,2.6 5.8,4.2" stroke-width="3.7"/></g>
<text class="ser" font-size="29" fill="#ff0000" x="167.54" y="340.9" stroke="#ff0000" stroke-width="0.3">-</text>
<text class="ser" font-size="29" fill="#ff0000" x="177.52" y="340.9" stroke="#ff0000" stroke-width="0.3">A</text>
<text class="ser" font-size="29" fill="#ff0000" x="196.73" y="340.9" stroke="#ff0000" stroke-width="0.3">l</text>
<text class="ser" font-size="21" fill="#ff0000" x="204.62" y="350.6" stroke="#ff0000" stroke-width="0.3">2</text>
<text class="ser" font-size="29" fill="#ff0000" x="214.68" y="340.9" stroke="#ff0000" stroke-width="0.3">O</text>
<text class="ser" font-size="21" fill="#ff0000" x="236.51" y="350.6" stroke="#ff0000" stroke-width="0.3">3</text>
<text class="ser" font-size="29" fill="#ff0000" x="247.78" y="340.9" stroke="#ff0000" stroke-width="0.3">/</text>
<text class="ser" font-size="29" fill="#ff0000" x="255.52" y="340.9" stroke="#ff0000" stroke-width="0.3">A</text>
<text class="ser" font-size="29" fill="#ff0000" x="275.14" y="340.9" stroke="#ff0000" stroke-width="0.3">g</text>
<text class="ser" font-size="29" fill="#ff0000" x="288.58" y="340.9" stroke="#ff0000" stroke-width="0.3">O</text>
<text class="ser" font-size="29" fill="#ff0000" x="317.65" y="340.9" stroke="#ff0000" stroke-width="0.3">N</text>
<text class="ser" font-size="29" fill="#ff0000" x="338.68" y="340.9" stroke="#ff0000" stroke-width="0.3">C</text>
<line x1="62.6" y1="568.9" x2="143" y2="568.9" stroke="#000" stroke-width="3.8" stroke-linecap="round"/>
<g transform="translate(153.3,582.2)" fill="none" stroke="#000" stroke-linecap="round" stroke-linejoin="round"><path d="M0.7,-8.7 C0.6,-11.8 1.6,-13.0 3.0,-13.0 C5.0,-13.0 6.0,-10.2 6.6,-5.5 L6.9,-1.5" stroke-width="2.6"/><path d="M11.9,-12.6 L6.8,-0.8" stroke-width="3.1"/><path d="M6.9,-1.5 C6.4,1.2 5.8,2.6 5.8,4.2" stroke-width="3.7"/></g>
<text class="ser" font-size="29" fill="#000" x="165.34" y="582.2" stroke="#000" stroke-width="0.3">-</text>
<text class="ser" font-size="29" fill="#000" x="174.62" y="582.2" stroke="#000" stroke-width="0.3">A</text>
<text class="ser" font-size="29" fill="#000" x="195.73" y="582.2" stroke="#000" stroke-width="0.3">l</text>
<text class="ser" font-size="21" fill="#000" x="203.32" y="592.2" stroke="#000" stroke-width="0.3">2</text>
<text class="ser" font-size="29" fill="#000" x="213.48" y="582.2" stroke="#000" stroke-width="0.3">O</text>
<text class="ser" font-size="21" fill="#000" x="235.61" y="592.2" stroke="#000" stroke-width="0.3">3</text>
<text class="ser" font-size="29" fill="#000" x="252.45" y="582.2" stroke="#000" stroke-width="0.3">N</text>
<text class="ser" font-size="29" fill="#000" x="274.00" y="582.2" stroke="#000" stroke-width="0.3">P</text>
<text class="ser" font-size="29" fill="#000" x="291.12" y="582.2" stroke="#000" stroke-width="0.3">s</text>
</svg></body></html>
